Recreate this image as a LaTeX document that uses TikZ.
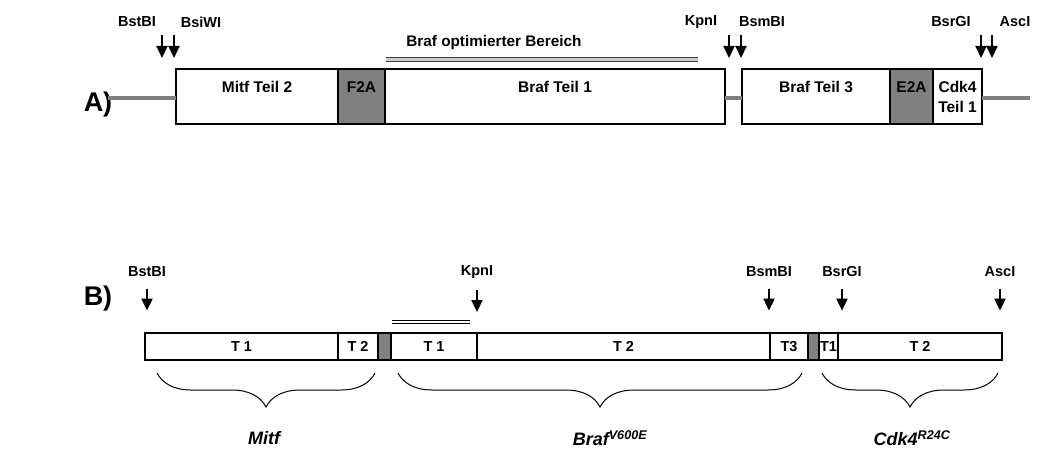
\documentclass[tikz,border=0pt]{standalone}
\usepackage{fontspec}
\setmainfont{Liberation Sans}
\usetikzlibrary{positioning,arrows.meta,decorations.pathreplacing}

\begin{document}
\begin{tikzpicture}[x=1pt, y=-1pt,
  every node/.style={font=\bfseries\fontsize{14.5}{16}\selectfont},
  seg/.style={draw, line width=1.3pt, rectangle, inner sep=0pt, outer sep=0pt, align=center},
  segA/.style={seg, minimum height=55pt},
  segB/.style={seg, minimum height=27pt},
  tag/.style={fill=white!50!black},
  boxtxt/.style={anchor=north, yshift=-9pt, font=\bfseries\fontsize{15.5}{17}\selectfont},
  dna/.style={line width=4pt, draw=white!50!black},
  cut/.style={-{Triangle[width=11pt, length=12pt]}, line width=2pt},
  opt/.style={double=white!80!black, double distance=2.5pt, line width=1.1pt, draw=black!75},
  panel/.style={font=\bfseries\fontsize{27}{29}\selectfont},
  gene/.style={font=\bfseries\itshape\fontsize{18}{20}\selectfont},
  brace/.style={decorate, decoration={brace, mirror, amplitude=34pt}, line width=1pt}]
\useasboundingbox (0,0) rectangle (1039,452);

% --- A) ---
\node[panel] (lblA) at (98,105) {A)};
\node[segA, minimum width=162pt, anchor=north west,
  label={[boxtxt]north:Mitf Teil 2}] (mitfA) at (176,69) {};
\node[segA, tag, minimum width=47pt, right=0pt of mitfA,
  label={[boxtxt]north:F2A}] (f2aA) {};
\node[segA, minimum width=340pt, right=0pt of f2aA,
  label={[boxtxt]north:Braf Teil 1}] (braf1A) {};
\node[segA, minimum width=148pt, right=17pt of braf1A,
  label={[boxtxt]north:Braf Teil 3}] (braf3A) {};
\node[segA, tag, minimum width=43pt, right=0pt of braf3A,
  label={[boxtxt]north:E2A}] (e2aA) {};
\node[segA, minimum width=49pt, right=0pt of e2aA,
  font=\bfseries\fontsize{15.5}{20}\selectfont] (cdkA) {Cdk4\\Teil 1};
\coordinate (startA) at (108,97.5);
\coordinate (endA) at (1030,97.5);
\draw[dna] (startA) -- (startA -| mitfA.west);
\draw[dna] (braf1A.east |- startA) -- (braf3A.west |- startA);
\draw[dna] (cdkA.east |- endA) -- (endA);

% sites A
\node (bstA) at (137,22) {BstBI};
\node (bsiA) at (201,22) {BsiWI};
\node (kpnA) at (701,22) {KpnI};
\node (bsmA) at (762,22) {BsmBI};
\node (bsrA) at (951,22) {BsrGI};
\node (ascA) at (1015,22) {AscI};
\coordinate (tBstA) at (162,58);
\coordinate (tBsiA) at (174,58);
\coordinate (tKpnA) at (729,58);
\coordinate (tBsmA) at (741,58);
\coordinate (tBsrA) at (981,58);
\coordinate (tAscA) at (992,58);
\draw[cut] ([yshift=23pt]tBstA) -- (tBstA);
\draw[cut] ([yshift=23pt]tBsiA) -- (tBsiA);
\draw[cut] ([yshift=23pt]tKpnA) -- (tKpnA);
\draw[cut] ([yshift=23pt]tBsmA) -- (tBsmA);
\draw[cut] ([yshift=23pt]tBsrA) -- (tBsrA);
\draw[cut] ([yshift=23pt]tAscA) -- (tAscA);

% optimierter Bereich
\node[font=\bfseries\fontsize{15.3}{17}\selectfont] (optA) at (494,43) {Braf optimierter Bereich};
\coordinate (o1A) at (386,59.5);
\coordinate (o2A) at (698,59.5);
\draw[opt] (o1A) -- (o2A);

% --- B) ---
\node[panel] (lblB) at (98,299) {B)};
\node[segB, minimum width=193pt, anchor=north west] (mitf1B) at (145,333) {T 1};
\node[segB, minimum width=40pt, right=0pt of mitf1B] (mitf2B) {T 2};
\node[segB, tag, minimum width=13pt, right=0pt of mitf2B] (f2aB) {};
\node[segB, minimum width=86pt, right=0pt of f2aB] (braf1B) {T 1};
\node[segB, minimum width=293pt, right=0pt of braf1B] (braf2B) {T 2};
\node[segB, minimum width=38pt, right=0pt of braf2B] (braf3B) {T3};
\node[segB, tag, minimum width=11pt, right=0pt of braf3B] (e2aB) {};
\node[segB, minimum width=19pt, right=0pt of e2aB] (cdk1B) {T1};
\node[segB, minimum width=164pt, right=0pt of cdk1B] (cdk2B) {T 2};

% sites B
\node (bstB) at (147,272) {BstBI};
\node (kpnB) at (477,272) {KpnI};
\node (bsmB) at (769,272) {BsmBI};
\node (bsrB) at (842,272) {BsrGI};
\node (ascB) at (1000,272) {AscI};
\draw[cut] ([yshift=-8pt]bstB.south) -- ++(0,22);
\draw[cut] ([yshift=-8pt]kpnB.south) -- ++(0,22);
\draw[cut] ([yshift=-8pt]bsmB.south) -- ++(0,22);
\draw[cut] ([yshift=-8pt]bsrB.south) -- ++(0,22);
\draw[cut] ([yshift=-8pt]ascB.south) -- ++(0,22);

% optimierter Bereich B
\coordinate (o1B) at (392,322);
\coordinate (o2B) at (470,322);
\draw[opt, double=white, draw=black] (o1B) -- (o2B);

% braces
\coordinate (m1) at (157,373);
\coordinate (m2) at (375,373);
\coordinate (b1) at (398,373);
\coordinate (b2) at (802,373);
\coordinate (c1) at (822,373);
\coordinate (c2) at (998,373);
\draw[brace] (m1) -- (m2);
\draw[brace] (b1) -- (b2);
\draw[brace] (c1) -- (c2);
\node[gene] (mitfG) at (264,438) {Mitf};
\node[gene] (brafG) at (610,438) {Braf\textsuperscript{V600E}};
\node[gene] (cdkG) at (912,438) {Cdk4\textsuperscript{R24C}};
\end{tikzpicture}
\end{document}
